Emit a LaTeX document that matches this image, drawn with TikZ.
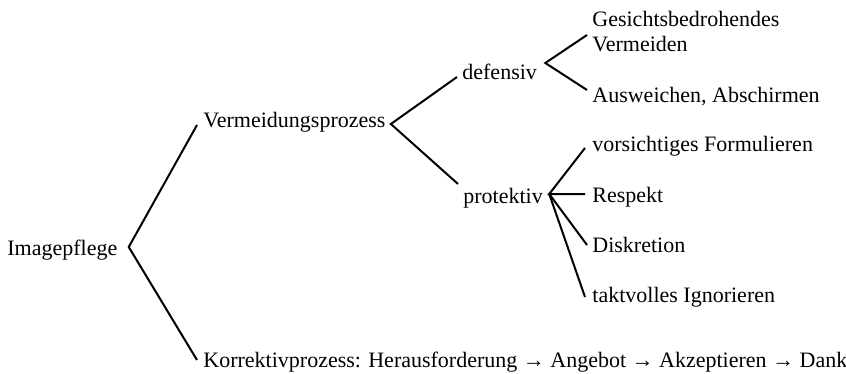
\documentclass[tikz,border=0pt]{standalone}
\usepackage{fontspec}
\setmainfont{Liberation Serif}
\usetikzlibrary{calc}
\begin{document}
\begin{tikzpicture}[x=0.5pt,y=-0.5pt,
  lbl/.style={anchor=west,inner sep=0pt,font=\fontsize{11pt}{12.5pt}\selectfont,align=left},
  br/.style={line width=1pt,black}]
\useasboundingbox (0,0) rectangle (846,374);
\node[lbl] (img) at (7,250) {Imagepflege};
\node[lbl] (verm) at (203,122) {Vermeidungsprozess};
\node[lbl] (korr) at (203,362) {Korrektivprozess: Herausforderung → Angebot → Akzeptieren → Dank};
\node[lbl] (def) at (462,72) {defensiv};
\node[lbl] (prot) at (463,198) {protektiv};
\node[lbl] (ges) at (592,32) {Gesichtsbedrohendes\\Vermeiden};
\node[lbl] (ausw) at (592,97) {Ausweichen, Abschirmen};
\node[lbl] (vors) at (592,146) {vorsichtiges Formulieren};
\node[lbl] (resp) at (592,197) {Respekt};
\node[lbl] (disk) at (592,245) {Diskretion};
\node[lbl] (takt) at (592,297) {taktvolles Ignorieren};
% Imagepflege
\draw[br] ($(verm.west)+(-6,3)$) -- ($(img.east)+(11,-3)$) -- ($(korr.west)+(-6,-2)$);
% Vermeidungsprozess
\draw[br] ($(def.west)+(-5,5)$) -- ($(verm.east)+(5,2)$) -- ($(prot.west)+(-5,-14)$);
% defensiv
\draw[br] ($(ges.west)+(-5,3)$) -- ($(def.east)+(8,-9)$) -- ($(ausw.west)+(-5,-7)$);
% protektiv
\draw[br] ($(vors.west)+(-7,2)$) -- ($(prot.east)+(6,-4)$) -- ($(resp.west)+(-7,-3)$);
\draw[br] ($(prot.east)+(6,-4)$) -- ($(disk.west)+(-5,0)$);
\draw[br] ($(prot.east)+(6,-4)$) -- ($(takt.west)+(-7,0)$);
\end{tikzpicture}
\end{document}
